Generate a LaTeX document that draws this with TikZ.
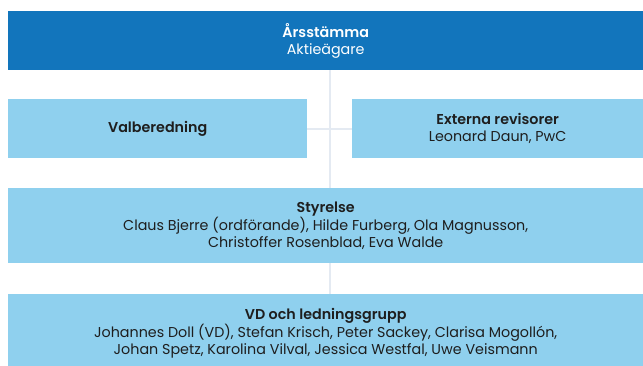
\documentclass[tikz,border=0pt]{standalone}
\usepackage{fontspec}
\setmainfont{Poppins}[BoldFont={Poppins SemiBold}]
\usetikzlibrary{backgrounds}
\definecolor{darkblue}{HTML}{1275BC}
\definecolor{lightblue}{HTML}{8FD0EE}
\definecolor{linegray}{HTML}{E4EAF2}
\definecolor{txt}{HTML}{1E1E1E}
\tikzset{
  box/.style={rectangle, fill=lightblue, anchor=north west, inner sep=0pt, align=center,
    text=txt, font=\fontsize{14.3}{17}\selectfont},
  topbox/.style={box, fill=darkblue, text=white},
  conn/.style={draw=linegray, line width=2pt}
}
\begin{document}
\begin{tikzpicture}[x=1pt,y=-1pt]
\useasboundingbox (0,0) rectangle (643,365);
\node[topbox, minimum width=635pt, minimum height=59pt] (top) at (8,11)
  {\textbf{Årsstämma}\\Aktieägare};
\node[box, minimum width=299pt, minimum height=59pt] (valb) at (8,99)
  {\textbf{Valberedning}};
\node[box, minimum width=291pt, minimum height=59pt] (ext) at (352,99)
  {\textbf{Externa revisorer}\\Leonard Daun, PwC};
\node[box, minimum width=635pt, minimum height=75pt] (styr) at (8,188)
  {\textbf{Styrelse}\\Claus Bjerre (ordförande), Hilde Furberg, Ola Magnusson,\\Christoffer Rosenblad, Eva Walde};
\node[box, minimum width=635pt, minimum height=78pt] (vd) at (8,294)
  {\textbf{VD och ledningsgrupp}\\Johannes Doll (VD), Stefan Krisch, Peter Sackey, Clarisa Mogollón,\\Johan Spetz, Karolina Vilval, Jessica Westfal, Uwe Veismann};
\coordinate (ct) at (330,70);
\coordinate (cb) at (330,294);
\begin{pgfonlayer}{background}
\draw[conn] (ct) -- (cb);
\draw[conn] (valb.east) -- (ext.west);
\end{pgfonlayer}
\end{tikzpicture}
\end{document}
